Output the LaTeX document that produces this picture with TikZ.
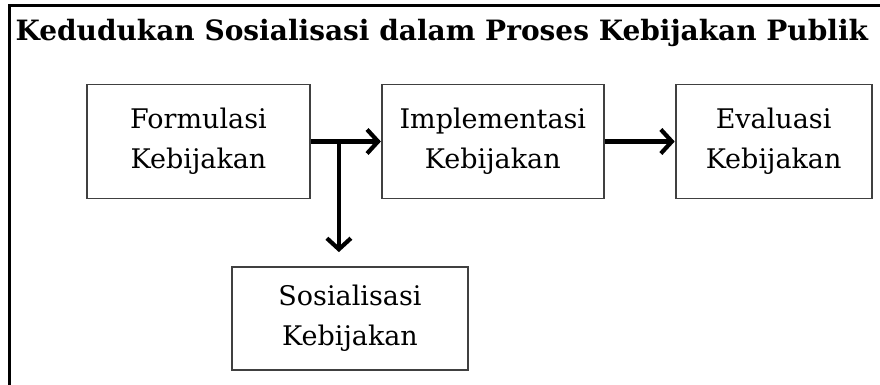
\documentclass[tikz,border=0pt]{standalone}
\usepackage{fontspec}
\setmainfont{DejaVu Serif}
\usetikzlibrary{positioning,calc,arrows.meta}
\tikzset{
	x=1pt,y=-1pt,node distance = 70pt,
	box/.style = {rectangle, draw=black!75, line width=1.8pt, align=center, text=black,
		font=\fontsize{27}{40}\selectfont, inner sep=0pt}, % the boxes of the process
	flow/.style = {-{Straight Barb[length=11pt,width=24pt]}, line width=4.2pt} % the thick arrows
}
\begin{document}
\begin{tikzpicture}
            \useasboundingbox (0,0) rectangle (880,385);
            \draw[line width=3pt] (9,385) -- (9,6) -- (880,6);
            \node[font=\bfseries\fontsize{28}{32}\selectfont, anchor=base west] (title) at (12,41) {Kedudukan Sosialisasi dalam Proses Kebijakan Publik};
            \node[box, minimum width=223pt, minimum height=114pt] (form) at (198.5,141.5) {Formulasi\\Kebijakan};
            \node[box, minimum width=222pt, minimum height=114pt] (impl) [right=of form] {Implementasi\\Kebijakan};
            \node[box, minimum width=196pt, minimum height=114pt] (eval) [right=of impl] {Evaluasi\\Kebijakan};
            \node[box, minimum width=236pt, minimum height=103pt] (sos) at (350,318.5) {Sosialisasi\\Kebijakan};
            \coordinate (j) at ($(form.east)+(28,0)$);
            \coordinate (k) at ($(j |- sos.north)+(0,-14)$);
            \draw[flow] (form) -- (impl);
            \draw[flow] (impl) -- (eval);
            \draw[flow] (j) -- (k);
        \end{tikzpicture}
\end{document}
